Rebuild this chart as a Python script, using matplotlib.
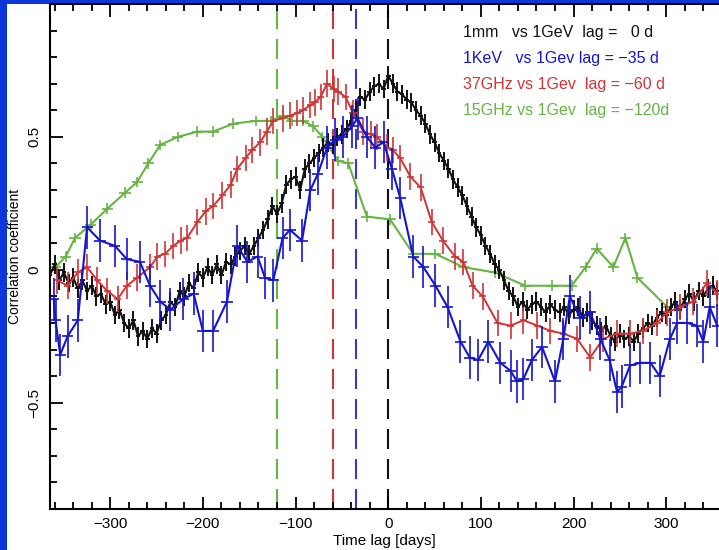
import numpy as np
import matplotlib.pyplot as plt
from matplotlib.patches import Rectangle
from matplotlib.ticker import MultipleLocator

plt.rcParams['font.family'] = ['Liberation Sans', 'DejaVu Sans']

# 1mm vs 1GeV (black), dense
mm_x = list(range(-365, 360, 5))
mm_y = [-0.02, 0.02, -0.04, -0.01, -0.05, -0.03, -0.07, -0.04, -0.08, -0.06,
        -0.10, -0.09, -0.13, -0.12, -0.17, -0.15, -0.20, -0.22, -0.19, -0.25,
        -0.23, -0.26, -0.22, -0.24, -0.19, -0.17, -0.12, -0.14, -0.08, -0.10,
        -0.05, -0.07, -0.01, -0.03, 0.01, -0.02, 0.02, -0.02, 0.03, 0.02,
        0.05, 0.07, 0.09, 0.06, 0.09, 0.12, 0.15, 0.19, 0.24, 0.21,
        0.25, 0.32, 0.34, 0.35, 0.30, 0.38, 0.40, 0.42, 0.44, 0.46,
        0.48, 0.47, 0.50, 0.51, 0.53, 0.56, 0.60, 0.65, 0.64, 0.67,
        0.69, 0.70, 0.68, 0.73, 0.70, 0.67, 0.66, 0.64, 0.63, 0.60,
        0.58, 0.55, 0.51, 0.48, 0.44, 0.41, 0.38, 0.34, 0.31, 0.28,
        0.24, 0.20, 0.16, 0.13, 0.09, 0.06, 0.02, 0.00, -0.04, -0.08,
        -0.10, -0.14, -0.12, -0.15, -0.13, -0.12, -0.14, -0.16, -0.13, -0.15,
        -0.16, -0.14, -0.17, -0.15, -0.14, -0.18, -0.16, -0.19, -0.21, -0.23,
        -0.21, -0.25, -0.27, -0.24, -0.26, -0.25, -0.27, -0.24, -0.22, -0.20,
        -0.21, -0.18, -0.16, -0.17, -0.14, -0.12, -0.15, -0.11, -0.09, -0.12,
        -0.08, -0.10, -0.07, -0.06, -0.08]
mm_x = mm_x[:len(mm_y)]

# 1KeV vs 1GeV (blue)
kev_x = [-361, -359, -354, -346, -335, -325, -311, -295, -282, -268, -257, -246,
         -235, -221, -210, -200, -189, -174, -163, -152, -141, -133, -124, -114,
         -106, -93, -84, -76, -66, -57, -49, -39, -33, -23, -14, -5, 4, 13,
         27, 38, 51, 64, 78, 88, 97, 108, 121, 132, 139, 146, 155, 166, 180,
         189, 196, 207, 218, 229, 239, 247, 252, 261, 272, 283, 293, 304, 312,
         323, 333, 340, 347, 355]
kev_y = [-0.11, -0.19, -0.32, -0.25, -0.19, 0.16, 0.11, 0.09, 0.04, 0.03, -0.06, -0.12,
         -0.15, -0.11, -0.09, -0.23, -0.23, -0.12, 0.09, 0.03, 0.05, -0.03, -0.04, 0.12,
         0.15, 0.11, 0.30, 0.36, 0.46, 0.49, 0.50, 0.54, 0.57, 0.50, 0.46, 0.48, 0.38, 0.27,
         0.05, 0.01, -0.06, -0.14, -0.27, -0.33, -0.34, -0.27, -0.35, -0.38, -0.42, -0.41, -0.34, -0.29, -0.42,
         -0.26, -0.10, -0.18, -0.16, -0.26, -0.34, -0.46, -0.44, -0.36, -0.35, -0.35, -0.40, -0.26, -0.20,
         -0.20, -0.21, -0.27, -0.14, -0.21]

# 37GHz vs 1GeV (red)
ghz37_x = [-357, -346, -335, -325, -314, -303, -292, -282, -271, -257, -249, -241,
           -232, -224, -217, -206, -197, -189, -179, -170, -163, -154, -147, -138,
           -131, -124, -114, -106, -98, -92, -84, -79, -73, -66, -59, -54, -46,
           -38, -27, -19, -12, -1, 5, 13, 24, 35, 47, 59, 72, 81, 91, 102, 118,
           132, 146, 161, 175, 189, 204, 218, 232, 247, 261, 275, 290, 301, 315,
           329, 344, 355]
ghz37_y = [-0.04, -0.06, -0.01, 0.01, -0.04, -0.08, -0.11, -0.06, -0.03, 0.01, 0.05, 0.06,
           0.09, 0.11, 0.12, 0.18, 0.22, 0.24, 0.28, 0.32, 0.38, 0.42, 0.45, 0.48,
           0.52, 0.56, 0.57, 0.58, 0.59, 0.60, 0.62, 0.63, 0.65, 0.70, 0.68, 0.67, 0.65,
           0.59, 0.52, 0.51, 0.50, 0.46, 0.45, 0.42, 0.35, 0.31, 0.18, 0.11, 0.05, 0.03, -0.06, -0.10, -0.20,
           -0.21, -0.19, -0.21, -0.23, -0.24, -0.26, -0.33, -0.26, -0.24, -0.24, -0.23, -0.20, -0.16, -0.14,
           -0.12, -0.05, -0.09]

# 15GHz vs 1GeV (green)
ghz15_x = [-359, -348, -338, -321, -303, -284, -271, -259, -246, -227, -206, -189,
           -167, -143, -127, -114, -104, -92, -81, -71, -54, -43, -23, 2, 27, 51,
           81, 115, 148, 177, 198, 213, 225, 243, 256, 269, 301]
ghz15_y = [0.01, 0.05, 0.12, 0.17, 0.23, 0.29, 0.33, 0.40, 0.47, 0.50, 0.52, 0.52,
           0.55, 0.56, 0.56, 0.58, 0.56, 0.56, 0.54, 0.50, 0.41, 0.40, 0.20, 0.19, 0.06, 0.06,
           0.01, -0.01, -0.06, -0.06, -0.06, 0.01, 0.08, 0.01, 0.12, -0.03, -0.14]

lags = [-120, -60, -35, 0]
legend_lines = ['1mm   vs 1GeV  lag =   0 d',
                '1KeV   vs 1Gev lag = \u221235 d',
                '37GHz vs 1Gev  lag = \u221260 d',
                '15GHz vs 1Gev  lag = \u2212120d']

BLACK = '#111111'
BLUE = '#1515cc'
RED = '#d03535'
GREEN = '#66b444'


def draw_plot():
    fig = plt.figure(figsize=(7.19, 5.5), dpi=100)
    fig.patch.set_facecolor('#0b36d9')
    fig.add_artist(Rectangle((7 / 719, 0), 1, 546 / 550, transform=fig.transFigure,
                             facecolor='white', edgecolor='none', zorder=0))
    ax = fig.add_axes([50 / 719, 1 - 509 / 550, 1 - 50 / 719, 505 / 550])
    ax.set_facecolor('white')

    lag_cols = [GREEN, RED, '#3a3ac0', BLACK]
    for lag, c in zip(lags, lag_cols):
        ax.axvline(lag, color=c, lw=1.5, linestyle=(0, (9.6, 4.8)), zorder=1)

    ax.errorbar(ghz15_x, ghz15_y, yerr=0.02, xerr=6, color=GREEN, lw=1.5,
                elinewidth=1.2, capsize=0, zorder=2)
    ax.errorbar(mm_x, mm_y, yerr=0.035, xerr=2.5, color=BLACK, lw=1.5,
                elinewidth=1.4, capsize=0, zorder=3)
    ax.errorbar(ghz37_x, ghz37_y, yerr=0.05, xerr=4, color=RED, lw=1.4,
                elinewidth=1.2, capsize=0, zorder=4)
    ax.errorbar(kev_x, kev_y, yerr=0.08, xerr=6, color=BLUE, lw=1.5,
                elinewidth=1.2, capsize=0, zorder=5)

    ax.set_xlim(-365, 357)
    ax.set_ylim(-0.9, 1.0)
    ax.xaxis.set_major_locator(MultipleLocator(100))
    ax.xaxis.set_minor_locator(MultipleLocator(20))
    ax.yaxis.set_major_locator(MultipleLocator(0.5))
    ax.yaxis.set_minor_locator(MultipleLocator(0.1))
    ax.set_yticks([-0.5, 0, 0.5])
    ax.set_yticklabels(['\u22120.5', '0', '0.5'], rotation=90, va='center')
    ax.tick_params(which='both', direction='in', top=True, right=False,
                   labelsize=11, width=1.3)
    ax.tick_params(which='major', length=9, pad=6)
    ax.tick_params(which='minor', length=5)
    ax.spines['right'].set_visible(False)
    for s in ['left', 'bottom', 'top']:
        ax.spines[s].set_linewidth(1.5)

    ax.set_xlabel('Time lag [days]', fontsize=11, labelpad=2)
    ax.set_ylabel('Correlation coefficient', fontsize=10, labelpad=4)

    cols = [BLACK, BLUE, RED, GREEN]
    for i, (txt, c) in enumerate(zip(legend_lines, cols)):
        fig.text(463 / 719, 1 - (32 + 26 * i) / 550, txt, color=c, fontsize=11.5,
                 va='center', ha='left')

    plt.savefig('out.png', dpi=100, facecolor=fig.get_facecolor())


if __name__ == '__main__':
    draw_plot()
